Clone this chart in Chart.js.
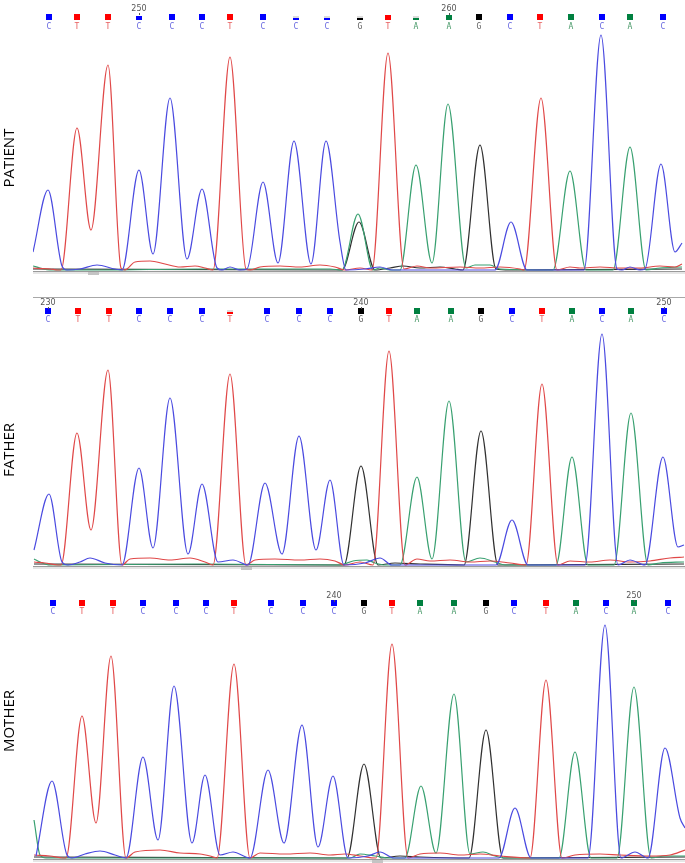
<!DOCTYPE html>
<html>
<head>
<meta charset="utf-8">
<script src="https://cdn.jsdelivr.net/npm/chart.js@4.4.0/dist/chart.umd.min.js"></script>
<style>
  body { margin: 0; background: #fff; }
  #wrap { position: relative; width: 685px; height: 863px; overflow: hidden; }
  canvas { position: absolute; left: 0; }
  .who {
    position: absolute; left: 8px; font: 15px "Open Sans", sans-serif; color: #000;
    transform: translate(-50%, -50%) rotate(-90deg); white-space: nowrap;
  }
</style>
</head>
<body>
<div id="wrap">
  <canvas id="patient" width="685" height="280" style="top:0px"></canvas>
  <canvas id="father" width="685" height="285" style="top:290px"></canvas>
  <canvas id="mother" width="685" height="278" style="top:585px"></canvas>
  <div class="who" style="top:158px">PATIENT</div>
  <div class="who" style="top:450px">FATHER</div>
  <div class="who" style="top:721px">MOTHER</div>
</div>
<script>
// base calls (same read in all three samples)
const calls = ['C','T','T','C','C','C','T','C','C','C','G','T','A','A','G','C','T','A','C','A','C'];

// where each call sits along the trace
const patientBaseX = [49,77,108,139,172,202,230,263,296,327,360,388,416,449,479,510,540,571,602,630,663];
const fatherBaseX  = [48,78,109,139,170,202,230,267,299,330,361,389,417,451,481,512,542,572,602,631,664];
const motherBaseX  = [53,82,113,143,176,206,234,271,303,334,364,392,420,454,486,514,546,576,606,634,668];

// call quality (0..1), drawn as the filled part of each square
const patientQual = [1,1,1,0.7,1,1,1,1,0.35,0.35,0.3,0.9,0.35,0.9,1,1,1,1,1,1,1];
const fatherQual  = [1,1,1,1,1,1,0.35,1,1,1,1,1,1,1,1,1,1,1,1,1,1];
const motherQual  = [1,1,1,1,1,1,1,1,1,1,1,1,1,1,1,1,1,1,1,1,1];

// position labels: index of the base they sit over, and the text
const patientTickIdx = [3, 13];
const patientTickLabels = ['250', '260'];
const fatherTickIdx = [0, 10, 20];
const fatherTickLabels = ['230', '240', '250'];
const motherTickIdx = [9, 19];
const motherTickLabels = ['240', '250'];

// traces [scan, signal]
const patientC = [[33,18],[48,80],[62,4],[67,0],[80,1],[97,5],[115,1],[122,0],[139,100],[153,16],[170,172],[187,11],[202,81],[217,2],[222,0],[230,3],[240,0],[247,1],[263,88],[278,7],[294,129],[311,6],[326,129],[340,28],[346,0],[365,1],[380,3],[392,0],[495,0],[511,48],[527,0],[584,0],[601,235],[617,1],[622,0],[630,3],[640,0],[645,1],[661,106],[675,18],[682,27]];
const patientT = [[33,2],[50,1],[58,0],[61,0],[77,142],[91,40],[108,205],[121,2],[125,0],[135,8],[150,9],[165,6],[180,3],[195,4],[205,2],[213,0],[230,213],[246,1],[250,0],[260,3],[280,4],[300,3],[320,5],[335,3],[345,0],[360,2],[372,0],[388,217],[404,1],[417,4],[430,2],[460,3],[480,2],[500,3],[520,1],[524,0],[541,172],[557,0],[570,3],[580,2],[600,3],[620,2],[640,2],[660,4],[675,3],[682,6]];
const patientA = [[33,4],[40,2],[50,0],[100,0],[200,1],[300,1],[330,1],[342,0],[358,56],[373,0],[380,2],[390,0],[400,0],[416,105],[432,7],[448,166],[466,2],[475,5],[490,5],[500,1],[553,0],[570,99],[586,0],[613,0],[630,123],[646,0],[660,2],[682,3]];
const patientG = [[33,1],[342,0],[359,48],[375,0],[390,2],[403,4],[420,2],[440,3],[455,1],[463,0],[480,125],[496,1],[510,0],[682,1]];

const fatherC = [[34,15],[49,71],[62,3],[68,0],[80,3],[90,7],[105,2],[122,0],[139,97],[153,17],[170,167],[188,11],[202,81],[218,3],[233,5],[248,0],[265,82],[282,11],[299,129],[316,15],[330,85],[344,0],[365,2],[380,7],[392,0],[496,0],[512,45],[528,0],[585,0],[602,231],[618,0],[630,5],[645,0],[663,108],[678,18],[684,20]];
const fatherT = [[34,3],[45,2],[58,0],[61,0],[77,132],[91,35],[108,195],[122,0],[130,6],[150,7],[170,5],[190,7],[205,3],[213,0],[230,191],[246,0],[255,5],[275,6],[300,5],[320,6],[335,4],[345,0],[360,3],[373,0],[389,214],[405,0],[417,6],[430,4],[450,5],[470,3],[490,4],[510,2],[526,0],[542,181],[558,0],[570,4],[590,3],[610,5],[630,3],[650,4],[670,7],[684,8]];
const fatherA = [[34,6],[40,3],[50,0],[200,1],[340,0],[353,4],[367,5],[375,2],[385,0],[400,0],[417,88],[432,6],[449,164],[466,3],[480,7],[495,3],[505,0],[556,0],[572,108],[588,0],[614,0],[631,152],[648,0],[660,2],[684,3]];
const fatherG = [[34,1],[344,0],[361,99],[378,0],[395,2],[420,1],[464,0],[481,134],[498,0],[684,1]];

const motherC = [[36,2],[52,77],[67,3],[72,0],[85,4],[100,7],[115,3],[126,0],[143,101],[158,18],[174,172],[192,15],[205,83],[220,3],[233,6],[250,0],[268,88],[284,15],[302,133],[318,11],[333,82],[348,0],[368,2],[380,6],[394,0],[499,0],[515,50],[531,0],[588,0],[605,233],[621,0],[635,6],[648,0],[665,110],[680,40],[685,30]];
const motherT = [[34,3],[50,2],[63,0],[66,0],[82,142],[96,35],[111,202],[126,0],[135,6],[160,8],[180,5],[200,4],[210,2],[217,0],[234,194],[250,0],[260,5],[285,4],[310,5],[330,3],[345,4],[360,2],[376,0],[392,214],[408,0],[420,4],[440,5],[460,3],[480,4],[500,2],[530,0],[546,178],[562,0],[575,3],[600,4],[620,3],[650,2],[670,3],[685,8]];
const motherA = [[34,38],[40,3],[46,0],[350,0],[360,4],[375,2],[390,0],[405,0],[421,72],[436,5],[454,164],[470,4],[483,6],[495,2],[505,0],[559,0],[575,106],[591,0],[617,0],[634,171],[651,0],[665,2],[685,2]];
const motherG = [[34,1],[347,0],[364,94],[381,0],[400,2],[420,1],[469,0],[486,128],[503,0],[685,1]];

const traceColor = { C: '#4a4ae0', T: '#e04848', A: '#38a070', G: '#303030' };
const squareColor = { C: '#0000ff', T: '#ff0000', A: '#008040', G: '#000000' };
const letterColor = { C: '#6a6ae0', T: '#e86060', A: '#4a9a6a', G: '#606060' };

// draws baseline, base-call squares, letters and position numbers
const baseRowPlugin = {
  id: 'baseRow',
  beforeDatasetsDraw(chart, args, o) {
    const ctx = chart.ctx, x = chart.scales.x, y = chart.scales.y;
    const y0 = Math.round(y.getPixelForValue(0)) + 1;
    ctx.save();
    ctx.fillStyle = '#e6e6e6';
    ctx.fillRect(x.left, y0, x.right - x.left, 3);
    ctx.fillStyle = '#9a9a9a';
    ctx.fillRect(x.left, y0, x.right - x.left, 1);
    ctx.fillStyle = '#c4c4c4';
    ctx.fillRect(x.getPixelForValue(o.thumb), y0 + 1, 11, 3);
    ctx.restore();
  },
  afterDatasetsDraw(chart, args, o) {
    const ctx = chart.ctx, x = chart.scales.x;
    ctx.save();
    if (o.topLine != null) {
      ctx.fillStyle = '#a8a8a8';
      ctx.fillRect(x.left, o.topLine, x.right - x.left, 1);
    }
    ctx.textAlign = 'center';
    ctx.textBaseline = 'middle';
    o.baseX.forEach((bx, i) => {
      const px = Math.round(x.getPixelForValue(bx));
      const b = o.calls[i];
      const q = o.qual[i];
      const top = o.sqY - 3;
      if (q < 0.8) {
        ctx.fillStyle = '#dcdcdc';
        ctx.fillRect(px - 3, top + 2, 6, 4);
      }
      const h = Math.max(2, Math.round(6 * q));
      ctx.fillStyle = squareColor[b];
      ctx.fillRect(px - 3, top + 6 - h, 6, h);
      ctx.fillStyle = letterColor[b];
      ctx.font = '8px "DejaVu Sans Mono", monospace';
      ctx.fillText(b, px, o.letY);
    });
    ctx.fillStyle = '#555';
    ctx.font = '8px "DejaVu Sans", sans-serif';
    o.tickIdx.forEach((bi, k) => {
      const px = Math.round(x.getPixelForValue(o.baseX[bi]));
      ctx.fillText(o.tickLabels[k], px, o.numY);
      ctx.fillRect(px, o.numY + 4, 1, 2);
    });
    ctx.restore();
  }
};

function makeChart(id, traces, yMin, yMax, row) {
  const datasets = ['C', 'T', 'A', 'G'].map(b => ({
    label: b,
    data: traces[b],
    borderColor: traceColor[b],
    borderWidth: 1.2,
    pointRadius: 0,
    fill: false,
    cubicInterpolationMode: 'monotone'
  }));
  return new Chart(document.getElementById(id), {
    type: 'line',
    data: { datasets },
    options: {
      responsive: false,
      animation: false,
      devicePixelRatio: 1,
      layout: { padding: { left: 33, right: 0, top: 0, bottom: 0 } },
      scales: {
        x: { type: 'linear', min: 33, max: 685, display: false },
        y: { min: yMin, max: yMax, display: false }
      },
      plugins: {
        legend: { display: false },
        tooltip: { enabled: false },
        baseRow: row
      }
    },
    plugins: [baseRowPlugin]
  });
}

makeChart('patient', { C: patientC, T: patientT, A: patientA, G: patientG }, -10, 270, {
  calls, baseX: patientBaseX, qual: patientQual, tickIdx: patientTickIdx, tickLabels: patientTickLabels,
  numY: 9, sqY: 17, letY: 27, topLine: null, thumb: 88
});
makeChart('father', { C: fatherC, T: fatherT, A: fatherA, G: fatherG }, -10, 275, {
  calls, baseX: fatherBaseX, qual: fatherQual, tickIdx: fatherTickIdx, tickLabels: fatherTickLabels,
  numY: 13, sqY: 21, letY: 30, topLine: 7, thumb: 241
});
makeChart('mother', { C: motherC, T: motherT, A: motherA, G: motherG }, -5, 273, {
  calls, baseX: motherBaseX, qual: motherQual, tickIdx: motherTickIdx, tickLabels: motherTickLabels,
  numY: 11, sqY: 18, letY: 27, topLine: null, thumb: 372
});
</script>
</body>
</html>
